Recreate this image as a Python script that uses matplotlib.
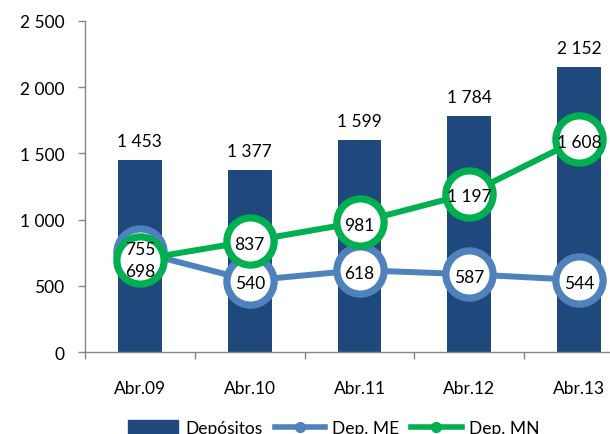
import matplotlib
matplotlib.use("Agg")
import matplotlib.pyplot as plt
from matplotlib.lines import Line2D
from matplotlib.patches import Patch

categories = ["Abr.09", "Abr.10", "Abr.11", "Abr.12", "Abr.13"]
depositos = [1453, 1377, 1599, 1784, 2152]
dep_me = [755, 540, 618, 587, 544]
dep_mn = [698, 837, 981, 1197, 1608]
yticks = [0, 500, 1000, 1500, 2000, 2500]

BAR = "#1F497D"
BLUE = "#4F81BD"
GREEN = "#00B050"
GRAY = "#868686"
FS = 12.5

plt.rcParams['font.family'] = ['Lato', 'DejaVu Sans']

def fmt(v):
    return f"{v:,}".replace(",", " ")

fig = plt.figure(figsize=(6.1, 4.35), dpi=100)
ax = fig.add_axes([85/610, 1-353/435, 549/610, 331/435])

x = list(range(len(categories)))
ax.bar(x, depositos, width=0.4, color=BAR, zorder=1)
for xi, v in zip(x, depositos):
    ax.annotate(fmt(v), (xi, v), xytext=(0, 8), textcoords="offset points",
                ha="center", va="bottom", fontsize=FS)

ax.plot(x, dep_me, color=BLUE, lw=4.3, marker="o", ms=34, mfc="white",
        mec=BLUE, mew=5.2, zorder=3)
ax.plot(x, dep_mn, color=GREEN, lw=4.3, marker="o", ms=34, mfc="white",
        mec=GREEN, mew=5.2, zorder=4)

for i, (a, b) in enumerate(zip(dep_me, dep_mn)):
    da, db = -2, -2
    if abs(a - b) < 100:
        if a > b:
            da, db = 2, -8
        else:
            da, db = -8, 2
    ax.annotate(fmt(a), (i, a), xytext=(0, da), textcoords="offset points",
                ha="center", va="center", fontsize=FS, zorder=6)
    ax.annotate(fmt(b), (i, b), xytext=(0, db), textcoords="offset points",
                ha="center", va="center", fontsize=FS, zorder=6)

ax.set_xlim(-0.5, len(categories) - 0.5)
ax.set_ylim(0, 2500)
ax.set_yticks(yticks)
ax.set_yticklabels([fmt(v) for v in yticks], fontsize=FS)
ax.set_xticks(x)
ax.set_xticklabels(categories, fontsize=FS)
ax.set_xticks([i - 0.5 for i in range(len(categories) + 1)], minor=True)
ax.tick_params(axis="x", which="major", length=0, pad=20)
ax.tick_params(axis="x", which="minor", length=5, color=GRAY, width=1)
ax.tick_params(axis="y", length=5, color=GRAY, width=1, pad=10)
for s in ["top", "right"]:
    ax.spines[s].set_visible(False)
for s in ["left", "bottom"]:
    ax.spines[s].set_color(GRAY)
    ax.spines[s].set_linewidth(1)

handles = [
    Patch(color=BAR, label="Depósitos"),
    Line2D([0], [0], color=BLUE, lw=4, marker="o", ms=7, mfc=BLUE, label="Dep. ME"),
    Line2D([0], [0], color=GREEN, lw=4, marker="o", ms=7, mfc=GREEN, label="Dep. MN"),
]
fig.legend(handles=handles, loc="upper left", bbox_to_anchor=(128/610, 1-421/435),
           ncol=3, frameon=False, fontsize=FS, handlelength=2.9, handleheight=0.8,
           columnspacing=0.7, handletextpad=0.4, borderaxespad=0, borderpad=0)

fig.savefig("out.png", dpi=100)
